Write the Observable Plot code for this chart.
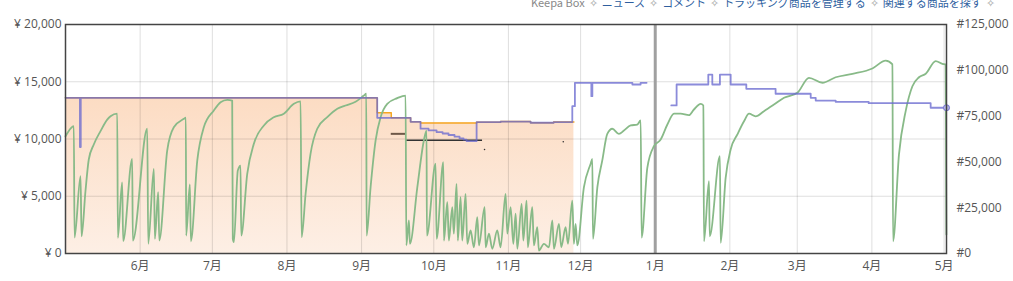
<!DOCTYPE html>
<html>
<head>
<meta charset="utf-8">
<script src="https://cdn.jsdelivr.net/npm/d3@7"></script>
<script src="https://cdn.jsdelivr.net/npm/@observablehq/plot@0.6"></script>
<style>
  html, body { margin: 0; padding: 0; background: #fff; overflow: hidden; }
  #wrap { position: relative; width: 1013px; height: 281px; }
  #hdr { position: absolute; top: -3px; left: 531px; font-family: "Noto Sans CJK JP", "Open Sans", sans-serif; font-size: 11px; line-height: 11px; white-space: nowrap; color: #2f5f9f; z-index: 2; }
  #hdr .g { color: #888; }
  #hdr .s { color: #999; padding: 0 4px; }
  #chart { position: absolute; left: 0; top: 0; }
</style>
</head>
<body>
<div id="wrap">
  <div id="hdr"></div>
  <div id="chart"></div>
</div>
<script>
// ---------- data ----------
const headerItems = ["Keepa Box", "ニュース", "コメント", "トラッキング商品を管理する", "関連する商品を探す"];
const monthTicks = ["2022-06-01","2022-07-01","2022-08-01","2022-09-01","2022-10-01","2022-11-01","2022-12-01","2023-01-01","2023-02-01","2023-03-01","2023-04-01","2023-05-01"];
const priceTicks = [0, 5000, 10000, 15000, 20000];
const rankTicks = [0, 25000, 50000, 75000, 100000, 125000];
const xDomain = ["2022-05-01", "2023-05-02"];
const yenMax = 20000, rankMax = 125000;

// Amazon price (yen)
const amazonPrice = [
  ["2022-05-01T00",13600],["2022-09-07T12",12290],["2022-09-13T08",11850],["2022-09-21T09",11500],
  ["2022-09-25T12",11400],["2022-10-18T19",11470],["2022-10-28T18",11520],["2022-11-10T05",11420],
  ["2022-11-19T19",11480],["2022-11-28T05",11480]
];
// New price (yen)
const newPrice = [
  ["2022-05-01T00",13600],["2022-05-07T00",9300],["2022-05-07T08",13600],["2022-09-07T12",11850],
  ["2022-09-21T09",11500],["2022-09-25T12",10900],["2022-09-28T20",10750],["2022-10-02T04",10600],
  ["2022-10-04T16",10480],["2022-10-07T03",10350],["2022-10-09T15",10200],["2022-10-11T17",10050],
  ["2022-10-13T09",9950],["2022-10-14T15",9820],["2022-10-18T19",11470],["2022-10-28T18",11520],
  ["2022-11-10T05",11420],["2022-11-19T19",11480],["2022-11-27T13",12870],["2022-11-28T15",14910],
  ["2022-12-05T11",13740],["2022-12-05T21",14910],["2022-12-22T12",14760],["2022-12-25T22",14910],
  ["2022-12-28T10",14910],["2023-01-01T00",null],
  ["2023-01-07T16",12930],["2023-01-09T21",14760],["2023-01-23T01",15630],["2023-01-24T17",14760],
  ["2023-01-27T21",15630],["2023-02-01T08",14760],["2023-02-07T20",14380],["2023-02-20T00",13950],
  ["2023-03-06T14",13600],["2023-03-08T16",13360],["2023-03-16T23",13250],["2023-03-30T16",13130],
  ["2023-04-25T10",12730],["2023-05-02T00",12730]
];
const newPriceLast = [["2023-05-02T00",12730]];
// Used offers (yen)
const usedBrown = [["2022-09-13T08","2022-09-19T07",10450]];
const usedBlack = [["2022-09-19T17","2022-10-21T06",9900]];
const usedDots = [["2022-10-22T02",9080],["2022-11-23T19",9760]];
// Sales rank (#)
const salesRank = [
["2022-05-01T00",64000],["2022-05-03T02",68200],["2022-05-04T11",69500],["2022-05-04T18",8700],["2022-05-07T06",42200],["2022-05-07T16",9400],["2022-05-09T07",34000],["2022-05-10T16",51300],["2022-05-12T18",59500],["2022-05-15T13",66800],["2022-05-18T08",73100],["2022-05-19T17",74900],["2022-05-22T12",76300],["2022-05-22T18",8600],["2022-05-24T13",38800],["2022-05-24T23",6800],["2022-05-28T17",51700],["2022-05-28T23",7100],["2022-06-03T23",68100],["2022-06-04T09",5300],["2022-06-06T17",46200],["2022-06-07T03",8000],["2022-06-08T12",33500],["2022-06-08T23",7100],["2022-06-12T06",56200],["2022-06-15T00",68900],["2022-06-19T04",73500],["2022-06-20T00",74100],["2022-06-20T03",9800],["2022-06-21T16",37700],["2022-06-22T02",6700],["2022-06-24T18",50800],["2022-06-27T11",68900],["2022-07-01T15",78100],["2022-07-04T10",82600],["2022-07-07T05",83900],["2022-07-09T06",83500],["2022-07-09T12",8000],["2022-07-09T23",6200],["2022-07-11T14",45300],["2022-07-12T17",48000],["2022-07-13T00",9800],["2022-07-15T12",43500],["2022-07-18T06",59900],["2022-07-22T10",69900],["2022-07-26T13",74400],["2022-07-30T17",76300],["2022-08-03T21",81700],["2022-08-06T16",83000],["2022-08-07T02",8900],["2022-08-08T18",32600],["2022-08-10T19",54400],["2022-08-13T14",68100],["2022-08-17T18",74400],["2022-08-21T22",79000],["2022-08-25T08",80800],["2022-08-29T12",82800],["2022-09-01T23",86200],["2022-09-02T23",87200],["2022-09-03T02",9800],["2022-09-04T18",36200],["2022-09-06T20",61700],["2022-09-08T22",74400],["2022-09-11T16",81700],["2022-09-15T20",84800],["2022-09-19T07",86200],["2022-09-19T14",4400],["2022-09-20T16",18000],["2022-09-21T02",5300],["2022-09-24T04",36200],["2022-09-26T21",61700],["2022-09-28T00",67100],["2022-09-28T03",9800],["2022-10-01T18",49000],["2022-10-02T04",8000],["2022-10-04T23",49800],["2022-10-05T05",7100],["2022-10-06T15",28000],["2022-10-07T06",7100],["2022-10-08T17",25300],["2022-10-09T08",10800],["2022-10-10T11",38000],["2022-10-11T00",7100],["2022-10-12T03",30700],["2022-10-12T20",7100],["2022-10-14T05",32600],["2022-10-14T22",5300],["2022-10-16T07",12600],["2022-10-17T16",3400],["2022-10-19T02",19800],["2022-10-19T18",4400],["2022-10-22T03",25300],["2022-10-22T13",3400],["2022-10-23T22",10800],["2022-10-25T07",2600],["2022-10-27T09",12600],["2022-10-28T18",3400],["2022-10-30T20",32600],["2022-10-31T13",10800],["2022-11-01T22",25300],["2022-11-03T01",5300],["2022-11-04T00",21700],["2022-11-04T17",2600],["2022-11-06T12",27100],["2022-11-07T05",7100],["2022-11-08T13",28900],["2022-11-09T02",3400],["2022-11-10T22",25300],["2022-11-11T14",4400],["2022-11-13T00",14400],["2022-11-13T16",1600],["2022-11-15T18",5300],["2022-11-17T20",3400],["2022-11-19T06",18000],["2022-11-19T22",2600],["2022-11-22T00",16200],["2022-11-22T23",3400],["2022-11-24T18",14400],["2022-11-25T18",5300],["2022-11-27T13",28900],["2022-11-28T05",5300],["2022-11-28T22",16200],["2022-11-29T15",4400],["2022-12-02T09",36200],["2022-12-05T04",49000],["2022-12-05T21",51700],["2022-12-06T03",8000],["2022-12-07T23",36200],["2022-12-10T00",50800],["2022-12-12T02",65300],["2022-12-14T04",68100],["2022-12-16T22",65300],["2022-12-19T00",67100],["2022-12-21T19",69900],["2022-12-24T13",70400],["2022-12-25T23",72600],["2022-12-26T08",8700],["2022-12-28T17",46800],["2022-12-31T11",58600],["2023-01-03T06",62200],["2023-01-06T01",70400],["2023-01-08T19",76300],["2023-01-11T13",76300],["2023-01-15T00",75500],["2023-01-17T02",78600],["2023-01-19T21",81700],["2023-01-21T00",80800],["2023-01-21T06",6700],["2023-01-23T08",39500],["2023-01-23T15",9400],["2023-01-27T21",53100],["2023-01-28T04",5800],["2023-01-30T06",41300],["2023-02-01T08",56800],["2023-02-04T03",65000],["2023-02-06T21",72200],["2023-02-08T23",76300],["2023-02-11T17",74900],["2023-02-15T04",77700],["2023-02-19T08",81300],["2023-02-23T12",85000],["2023-03-01T01",87700],["2023-03-05T21",95900],["2023-03-11T11",93200],["2023-03-16T23",96200],["2023-03-23T22",98100],["2023-04-01T05",101000],["2023-04-06T18",105300],["2023-04-09T13",103200],["2023-04-09T19",6700],["2023-04-12T06",54000],["2023-04-15T01",77700],["2023-04-17T20",91300],["2023-04-20T14",96200],["2023-04-23T09",98100],["2023-04-27T12",105000],["2023-04-30T07",103500],["2023-05-01T16",103200],["2023-05-01T23",10400]
];
const yearMarker = ["2023-01-01"];

// ---------- helpers ----------
const parseT = s => new Date(s.length === 10 ? s + "T00:00:00Z" : s + ":00:00Z");
const toPts = arr => arr.map(([t, v]) => ({t: parseT(t), v}));
const rankToY = yenMax / rankMax;

// header
const hdr = document.getElementById("hdr");
headerItems.forEach((txt, i) => {
  const sp = document.createElement("span");
  sp.textContent = txt;
  if (i === 0) sp.className = "g";
  hdr.appendChild(sp);
  const st = document.createElement("span");
  st.className = "s"; st.textContent = "✧";
  hdr.appendChild(st);
});

function gradientDefs() {
  const ns = "http://www.w3.org/2000/svg";
  const defs = document.createElementNS(ns, "defs");
  defs.innerHTML = '<linearGradient id="amzGrad" x1="0" y1="0" x2="0" y2="1">' +
    '<stop offset="0" stop-color="#fcdcc3"/><stop offset="1" stop-color="#fdefe5"/></linearGradient>';
  return defs;
}

const amz = toPts(amazonPrice);
const np = toPts(newPrice);
const rank = toPts(salesRank).map(d => ({t: d.t, v: d.v * rankToY}));
const months = monthTicks.map(parseT);
const fmt = d3.format(",");

const chart = Plot.plot({
  width: 1013,
  height: 281,
  marginLeft: 65,
  marginRight: 67,
  marginTop: 24,
  marginBottom: 28,
  style: {fontFamily: "'Open Sans', 'Noto Sans CJK JP', sans-serif", fontSize: "12px", color: "#555", background: "#fff"},
  x: {type: "utc", domain: xDomain.map(parseT), label: null},
  y: {domain: [0, yenMax], label: null},
  marks: [
    gradientDefs,
    Plot.areaY(amz, {x: "t", y: "v", curve: "step-after", fill: "url(#amzGrad)"}),
    Plot.gridX(months, {stroke: "#000", strokeOpacity: 0.13}),
    Plot.gridY(priceTicks.slice(1, -1), {stroke: "#000", strokeOpacity: 0.13}),
    Plot.ruleX(yearMarker.map(parseT), {stroke: "#a0a0a0", strokeWidth: 3}),
    Plot.line(amz, {x: "t", y: "v", curve: "step-after", stroke: "#f5a623", strokeWidth: 1.5}),
    Plot.ruleY(usedBrown, {x1: d => parseT(d[0]), x2: d => parseT(d[1]), y: d => d[2], stroke: "#6e5848", strokeWidth: 2}),
    Plot.ruleY(usedBlack, {x1: d => parseT(d[0]), x2: d => parseT(d[1]), y: d => d[2], stroke: "#333", strokeWidth: 1.5}),
    Plot.dot(usedDots, {x: d => parseT(d[0]), y: d => d[1], r: 0.8, fill: "#333"}),
    Plot.line(rank, {x: "t", y: "v", curve: "monotone-x", stroke: "#88ba88", strokeWidth: 1.8, strokeLinejoin: "round"}),
    Plot.line(np, {x: "t", y: "v", curve: "step-after", stroke: "#6a6ad0", strokeWidth: 1.8, strokeOpacity: 0.78}),
    Plot.dot(newPriceLast, {x: d => parseT(d[0]), y: d => d[1], r: 3, fill: "#b6b6e4", stroke: "#7474d0", strokeWidth: 1}),
    Plot.frame({stroke: "#444", strokeWidth: 1.5}),
    Plot.axisX(months, {label: null, tickSize: 0, tickPadding: 8, tickFormat: d => (d.getUTCMonth() + 1) + "月"}),
    Plot.axisY(priceTicks, {anchor: "left", label: null, tickSize: 0, tickPadding: 4, tickFormat: v => "¥ " + fmt(v)}),
    Plot.axisY(rankTicks.map(r => r * rankToY), {anchor: "right", label: null, tickSize: 0, tickPadding: 10, tickFormat: v => "#" + fmt(Math.round(v / rankToY))})
  ]
});
document.getElementById("chart").appendChild(chart);
</script>
</body>
</html>
